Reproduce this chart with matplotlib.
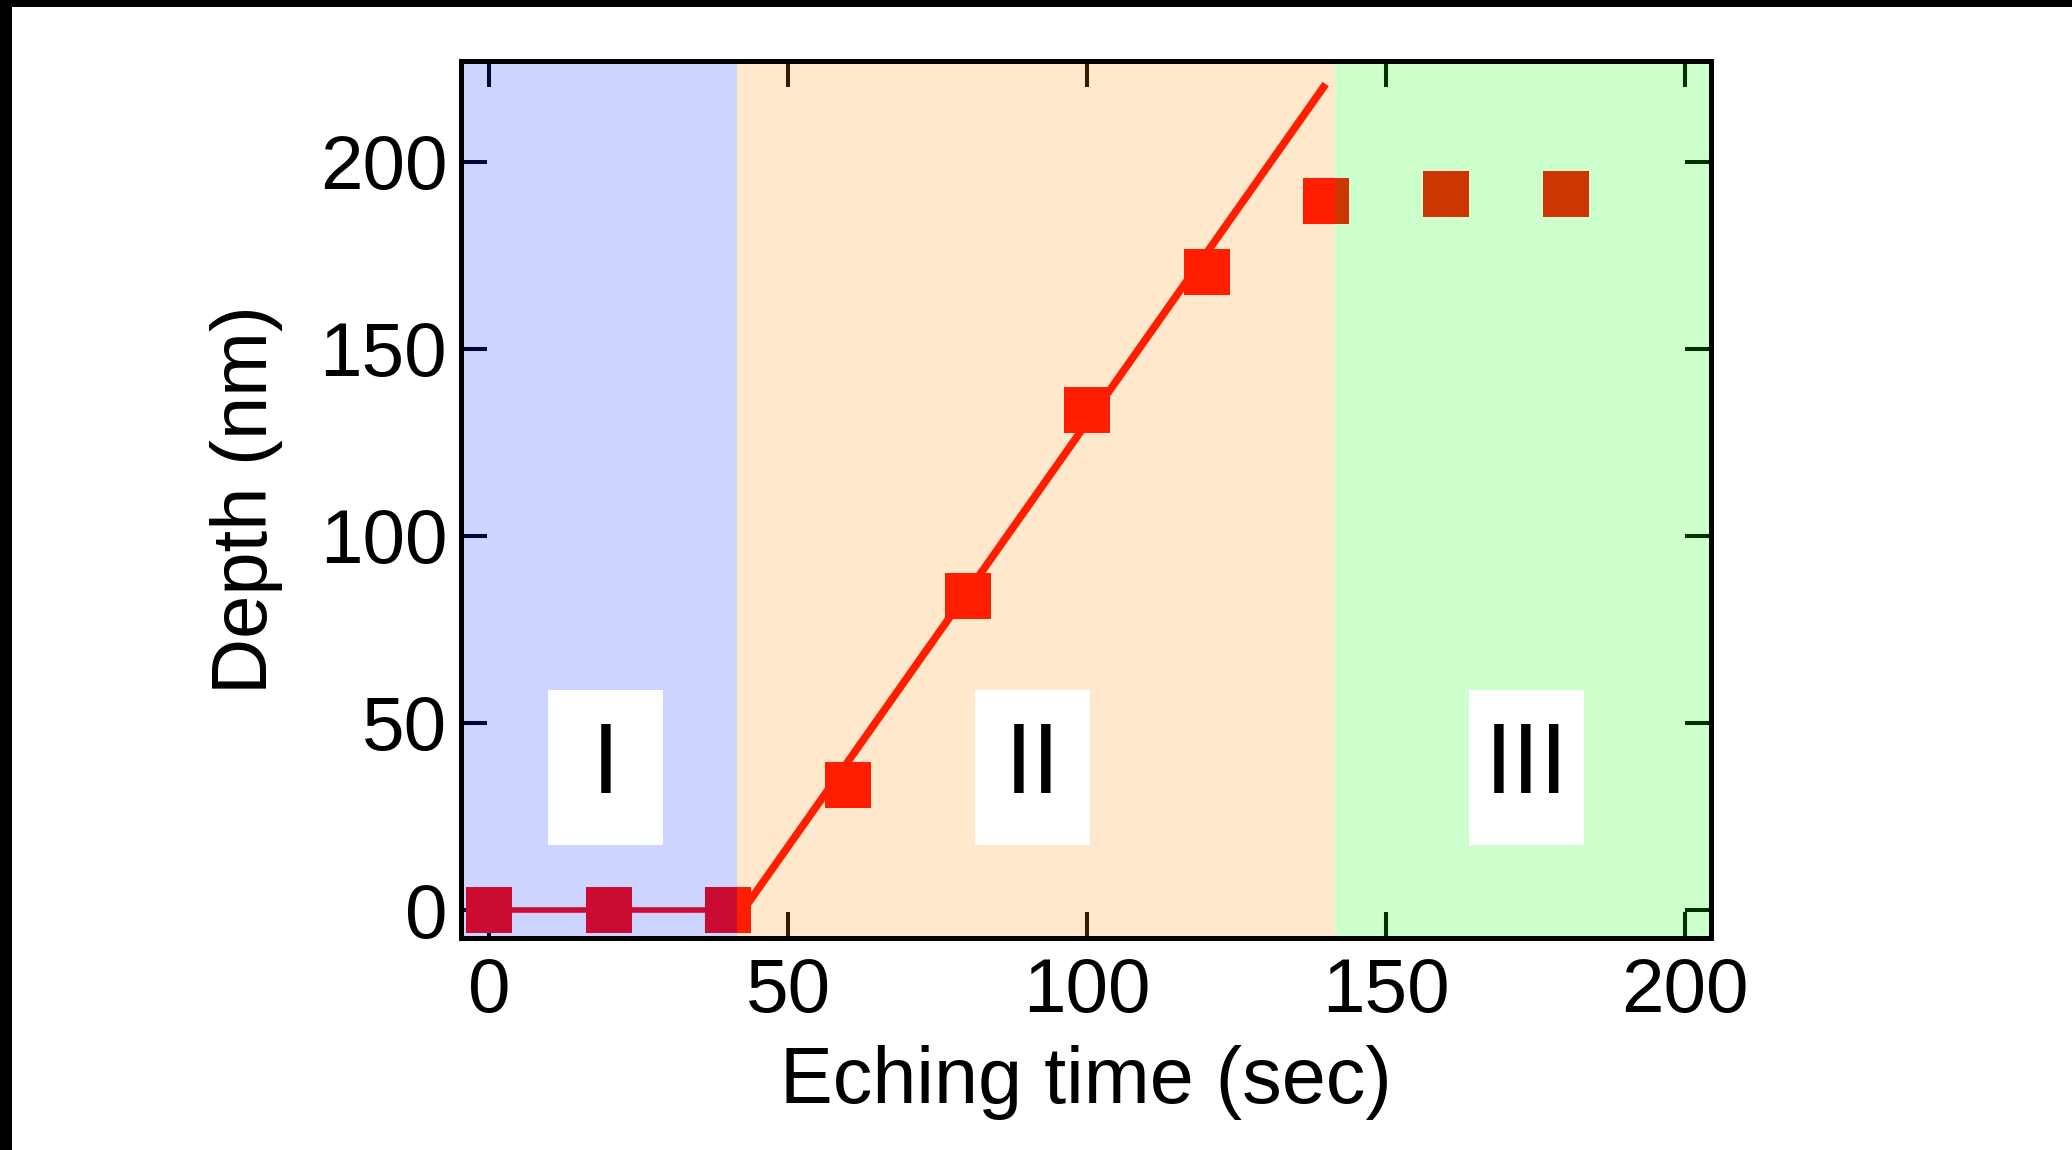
import matplotlib
matplotlib.use("Agg")
import matplotlib.pyplot as plt
from matplotlib.patches import Rectangle

plt.rcParams['font.family'] = ['Liberation Sans', 'DejaVu Sans']

# measured depths
time_s = [0, 20, 40, 60, 80, 100, 120, 140, 160, 180]
depth_nm = [0, 0, 0, 33.4, 84.0, 133.7, 170.6, 189.6, 191.5, 191.5]

# linear fit for the etching stage
fit_t = [42.5, 139.5]
fit_d = [0, 220]

# etching stages
stage_names = ['I', 'II', 'III']
stage_edges = [-4.7, 41.5, 141.4, 204.3]
stage_colors = ['#0028FF', '#FF8C00', '#00FF00']
label_x = [19.5, 90.8, 173.4]
label_box_w = 19.2
label_box_y = [17.4, 58.8]

red = '#FF0500'

fig = plt.figure(figsize=(20.72, 11.5), dpi=100)
ax = fig.add_axes([0.2225, 0.1843, 0.6033, 0.7627])

ax.plot(time_s[:3], depth_nm[:3], '-', color=red, lw=4, zorder=2)
ax.plot(fit_t, fit_d, '-', color=red, lw=5.5, zorder=2)
ax.plot(time_s, depth_nm, 's', color=red, ms=33, mew=0, zorder=2.2)

# translucent stage bands laid over the data
for i in range(3):
    ax.axvspan(stage_edges[i], stage_edges[i + 1], color=stage_colors[i],
               alpha=0.2, lw=0, zorder=3)

for name, cx in zip(stage_names, label_x):
    ax.add_patch(Rectangle((cx - label_box_w / 2, label_box_y[0]), label_box_w,
                           label_box_y[1] - label_box_y[0], facecolor='white',
                           edgecolor='none', zorder=5))
    ax.text(cx, (label_box_y[0] + label_box_y[1]) / 2, name, ha='center',
            va='center', fontsize=72, zorder=6)

ax.set_xlim(stage_edges[0], stage_edges[-1])
ax.set_ylim(-7.5, 227)
ax.set_xticks([0, 50, 100, 150, 200])
ax.set_yticks([0, 50, 100, 150, 200])

ax.tick_params(direction='in', length=18.7, width=2.9, top=True, right=True,
               labelsize=55)
ax.tick_params(axis='x', pad=14)
ax.tick_params(axis='y', pad=10)
for s in ax.spines.values():
    s.set_linewidth(3.6)
    s.set_zorder(4)

ax.set_xlabel('Eching time (sec)', fontsize=57, labelpad=12)
ax.set_ylabel('Depth (nm)', fontsize=56, labelpad=26)

# dark frame strips along the top and left edges
fig.patches.append(Rectangle((0, 1 - 7 / 1150), 1, 7 / 1150, transform=fig.transFigure,
                             facecolor='black', edgecolor='none'))
fig.patches.append(Rectangle((0, 0), 12 / 2072, 1, transform=fig.transFigure,
                             facecolor='black', edgecolor='none'))

fig.savefig('out.png', dpi=100)
